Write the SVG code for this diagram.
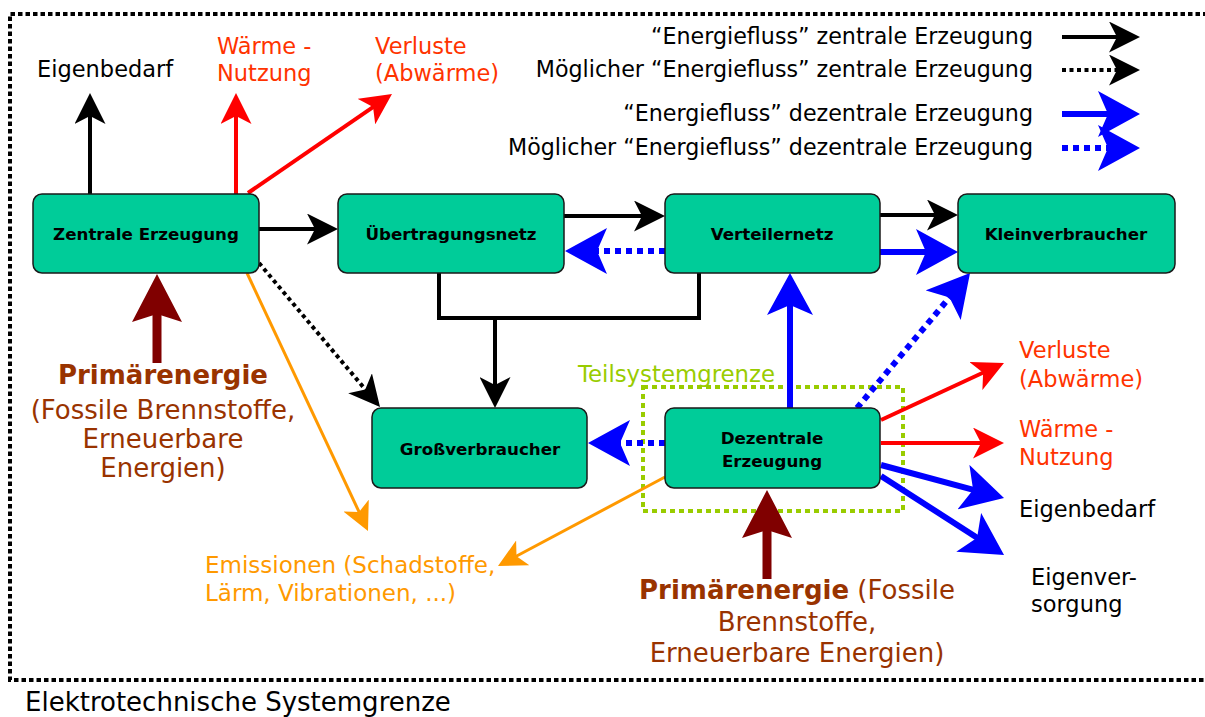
<svg xmlns="http://www.w3.org/2000/svg" width="1205" height="717" viewBox="0 0 1205 717">
<style>
text{font-family:"DejaVu Sans","Liberation Sans",sans-serif;font-size:22.5px;}
.node rect{fill:#00cc99;stroke:#1a1a1a;stroke-width:1.5;}
.node text{font-weight:bold;font-size:16.7px;fill:#000;text-anchor:middle;}
.k{stroke:#000;stroke-width:4;fill:none;}
.kd{stroke:#000;stroke-width:4;fill:none;stroke-dasharray:4 3.5;}
.r{stroke:#ff0000;stroke-width:4;fill:none;}
.b{stroke:#0000ff;stroke-width:6;fill:none;}
.bd{stroke:#0000ff;stroke-width:6;fill:none;stroke-dasharray:6 5;}
.o{stroke:#ff9900;stroke-width:3;fill:none;}
.m{stroke:#800000;stroke-width:9;fill:none;}
.red{fill:#ff3300;}
.blk{fill:#000;}
.brn{fill:#993300;text-anchor:middle;font-size:26px;}
.org{fill:#ff9900;font-size:23px;}
.leg{text-anchor:end;fill:#000;font-size:22.2px;}
.big{font-size:26px;}
.tsg{fill:#99cc00;font-size:22.8px;}
</style>
<defs>
<marker id="aK" markerUnits="userSpaceOnUse" viewBox="0 0 31 31" markerWidth="31" markerHeight="31" refX="19" refY="15.5" orient="auto"><path d="M31,15.5 L0,0 L8,15.5 L0,31 Z" fill="#000"/></marker>
<marker id="aR" markerUnits="userSpaceOnUse" viewBox="0 0 31 31" markerWidth="31" markerHeight="31" refX="19" refY="15.5" orient="auto"><path d="M31,15.5 L0,0 L8,15.5 L0,31 Z" fill="#ff0000"/></marker>
<marker id="aB" markerUnits="userSpaceOnUse" viewBox="0 0 42 46" markerWidth="42" markerHeight="46" refX="22" refY="23" orient="auto"><path d="M42,23 L0,0 L10,23 L0,46 Z" fill="#0000ff"/></marker>
<marker id="aO" markerUnits="userSpaceOnUse" viewBox="0 0 28 28" markerWidth="28" markerHeight="28" refX="18" refY="14" orient="auto"><path d="M28,14 L0,0 L7,14 L0,28 Z" fill="#ff9900"/></marker>
<marker id="aM" markerUnits="userSpaceOnUse" viewBox="0 0 48 50" markerWidth="48" markerHeight="50" refX="28" refY="25" orient="auto"><path d="M48,25 L0,0 L8,25 L0,50 Z" fill="#800000"/></marker>
</defs>

<g id="systemgrenze">
<path d="M1215,14 H10 V680 H1215" fill="none" stroke="#000" stroke-width="4" stroke-dasharray="4.5 3"/>
<text x="25" y="711" class="blk big">Elektrotechnische Systemgrenze</text>
</g>

<g id="teilsystemgrenze">
<rect x="643" y="387" width="260" height="124" fill="none" stroke="#99cc00" stroke-width="4" stroke-dasharray="5 4"/>
<text x="578" y="382" class="tsg">Teilsystemgrenze</text>
</g>

<g id="legend">
<text x="1033" y="44" class="leg">“Energiefluss” zentrale Erzeugung</text>
<text x="1033" y="77" class="leg">Möglicher “Energiefluss” zentrale Erzeugung</text>
<text x="1033" y="121" class="leg">“Energiefluss” dezentrale Erzeugung</text>
<text x="1033" y="155" class="leg">Möglicher “Energiefluss” dezentrale Erzeugung</text>
<path class="k" d="M1062,37 H1128" marker-end="url(#aK)"/>
<path class="kd" d="M1062,70 H1128" marker-end="url(#aK)"/>
<path class="b" d="M1062,114 H1120" marker-end="url(#aB)"/>
<path class="bd" d="M1062,148 H1120" marker-end="url(#aB)"/>
</g>

<g id="connectors">
<path class="k" d="M90,194 V105" marker-end="url(#aK)"/>
<path class="r" d="M236,194 V105" marker-end="url(#aR)"/>
<path class="r" d="M248,193 L382.1,100.8" marker-end="url(#aR)"/>
<path class="k" d="M259,229 H326" marker-end="url(#aK)"/>
<path class="kd" d="M259,263 L372.3,397.8" marker-end="url(#aK)"/>
<path class="o" d="M247,273 L363.75,521.9" marker-end="url(#aO)"/>
<path class="m" d="M157,363 V294" marker-end="url(#aM)"/>
<path class="k" d="M564,216 H653" marker-end="url(#aK)"/>
<path class="bd" d="M665,251 H585" marker-end="url(#aB)"/>
<path class="k" d="M880,215 H946" marker-end="url(#aK)"/>
<path class="b" d="M880,252 H938" marker-end="url(#aB)"/>
<path class="k" d="M439,273 V318 H699 V273"/>
<path class="k" d="M495,318 V396" marker-end="url(#aK)"/>
<path class="b" d="M790,408 V293" marker-end="url(#aB)"/>
<path class="bd" d="M857,408 L957.2,288.3" marker-end="url(#aB)"/>
<path class="bd" d="M665,443 H608" marker-end="url(#aB)"/>
<path class="o" d="M665,477 L506.8,561.3" marker-end="url(#aO)"/>
<path class="m" d="M767,579 V510" marker-end="url(#aM)"/>
<path class="r" d="M881,420 L993.1,368" marker-end="url(#aR)"/>
<path class="r" d="M881,443 H992" marker-end="url(#aR)"/>
<path class="b" d="M881,465 L984.7,492.8" marker-end="url(#aB)"/>
<path class="b" d="M881,476 L987.2,544.2" marker-end="url(#aB)"/>
</g>

<g id="zentrale" class="node"><rect x="33" y="194" width="226" height="79" rx="9"/><text x="146" y="240">Zentrale Erzeugung</text></g>
<g id="uebertragungsnetz" class="node"><rect x="338" y="194" width="226" height="79" rx="9"/><text x="451" y="240">Übertragungsnetz</text></g>
<g id="verteilernetz" class="node"><rect x="665" y="194" width="215" height="79" rx="9"/><text x="772" y="240">Verteilernetz</text></g>
<g id="kleinverbraucher" class="node"><rect x="958" y="194" width="217" height="79" rx="9"/><text x="1066" y="240">Kleinverbraucher</text></g>
<g id="grossverbraucher" class="node"><rect x="372" y="408" width="215" height="80" rx="9"/><text x="480" y="455">Großverbraucher</text></g>
<g id="dezentrale" class="node"><rect x="665" y="408" width="215" height="80" rx="9"/><text x="772" y="444">Dezentrale</text><text x="772" y="467">Erzeugung</text></g>

<g id="labels">
<text x="37" y="77" class="blk">Eigenbedarf</text>
<text x="217" y="54" class="red">Wärme -</text>
<text x="217" y="81" class="red">Nutzung</text>
<text x="375" y="54" class="red">Verluste</text>
<text x="375" y="81" class="red">(Abwärme)</text>
<text x="163" y="384" class="brn" font-weight="bold">Primärenergie</text>
<text x="163" y="419" class="brn">(Fossile Brennstoffe,</text>
<text x="163" y="448" class="brn">Erneuerbare</text>
<text x="163" y="477" class="brn">Energien)</text>
<text x="205" y="573" class="org">Emissionen (Schadstoffe,</text>
<text x="205" y="601" class="org">Lärm, Vibrationen, ...)</text>
<text x="797" y="599" class="brn"><tspan font-weight="bold">Primärenergie</tspan> (Fossile</text>
<text x="797" y="631" class="brn">Brennstoffe,</text>
<text x="797" y="662" class="brn">Erneuerbare Energien)</text>
<text x="1019" y="358" class="red">Verluste</text>
<text x="1019" y="387" class="red">(Abwärme)</text>
<text x="1019" y="437" class="red">Wärme -</text>
<text x="1019" y="465" class="red">Nutzung</text>
<text x="1019" y="517" class="blk">Eigenbedarf</text>
<text x="1031" y="585" class="blk">Eigenver-</text>
<text x="1031" y="612" class="blk">sorgung</text>
</g>
</svg>
